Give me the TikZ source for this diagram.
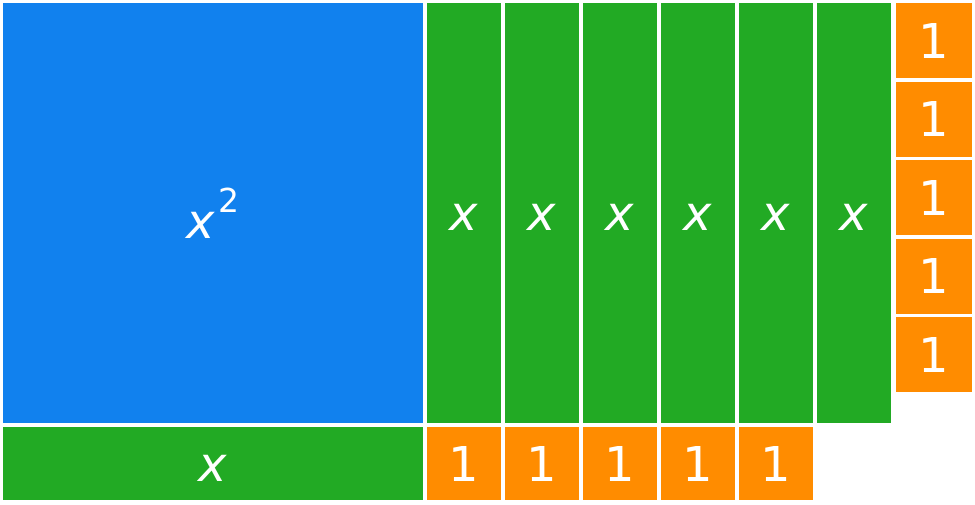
\documentclass[tikz,border=0pt]{standalone}
\usepackage{fontspec}
\setmainfont{DejaVu Sans}
\definecolor{tileblue}{RGB}{17,129,238}
\definecolor{tilegreen}{RGB}{34,170,36}
\definecolor{tileorange}{RGB}{255,140,0}
\newcommand\tilefont{\fontsize{48}{48}\selectfont}
\tikzset{
  tile/.style={rectangle, inner sep=0pt, outer sep=0pt, text=white, font=\tilefont,
    text height=35pt, text depth=0pt},
  bluetile/.style={tile, fill=tileblue, minimum width=420pt, minimum height=420pt},
  xstrip/.style={tile, fill=tilegreen, minimum width=74pt, minimum height=420pt},
  xbar/.style={tile, fill=tilegreen, minimum width=420pt, minimum height=73pt},
  onebottom/.style={tile, fill=tileorange, minimum width=74pt, minimum height=73pt},
  oneside/.style={tile, fill=tileorange, minimum width=76pt, minimum height=75pt},
}
\begin{document}
\begin{tikzpicture}[x=1pt,y=1pt]
\useasboundingbox[fill=white] (0,0) rectangle (975,-504);
% x^2 square
\node[bluetile] (sq) at (213,-213) {};
\node[anchor=base, text=white, font=\tilefont, inner sep=0pt] (sqlabel) at ([yshift=-25pt]sq.center)
  {\textit{x}\kern3pt\raisebox{26pt}{\fontsize{33}{33}\selectfont 2}};
% x strips
\foreach \i in {0,...,5}{
  \node[xstrip] (strip\i) at ({464+78*\i},-213) {\textit{x}};
}
% bottom x bar
\node[xbar] (bar) at (213,-463.5) {\textit{x}};
% bottom ones
\foreach \j in {0,...,4}{
  \node[onebottom] (bone\j) at ({464+78*\j},-463.5) {1};
}
% side ones
\foreach \k in {0,...,4}{
  \node[oneside] (sone\k) at (934,{-(40.5+78.5*\k)}) {1};
}
\end{tikzpicture}
\end{document}
